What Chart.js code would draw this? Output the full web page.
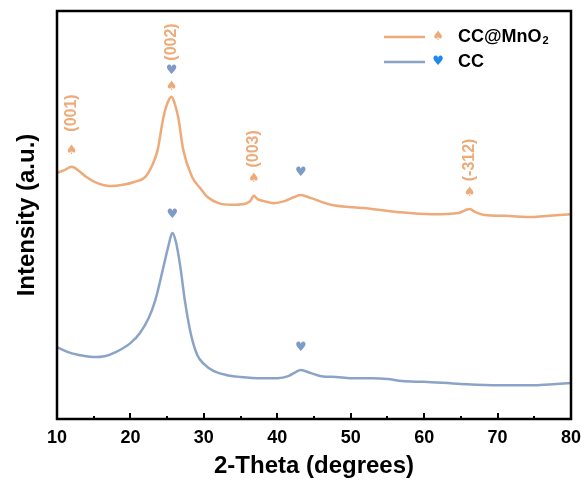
<!DOCTYPE html>
<html>
<head>
<meta charset="utf-8">
<script src="https://cdn.jsdelivr.net/npm/chart.js@4"></script>
<style>
  body { margin: 0; background: #fff; }
  canvas { display: block; }
</style>
</head>
<body>
<canvas id="myChart" width="581" height="483"></canvas>
<script>
const ctx = document.getElementById("myChart");

// CC@MnO2 pattern (2-theta, intensity a.u.)
const mnoTheta = [10, 11, 12, 13, 14, 15.5, 17.2, 19, 20.5, 22, 23, 23.7, 24.5, 25.1, 25.6, 26.0, 26.5, 27.2, 28.4, 29.5, 30.5, 32, 33.7, 35.5, 36.3, 36.8, 37.3, 38.2, 39.5, 41, 42.3, 43.2, 44.5, 47.3, 51.8, 56.5, 61, 64.7, 66.2, 67.0, 68.2, 71, 74.7, 77, 80];
const mnoIntensity = [60.3, 61.0, 61.8, 60.8, 59.3, 57.8, 57.1, 57.4, 58.1, 59.3, 62.3, 65.9, 74.0, 77.7, 79.0, 77.5, 74.0, 65.9, 59.3, 56.6, 54.4, 52.9, 52.5, 52.7, 53.4, 54.7, 53.9, 53.4, 52.9, 53.4, 54.4, 54.9, 54.2, 52.5, 51.7, 50.7, 50.2, 50.5, 51.5, 50.7, 50.0, 49.8, 49.5, 49.8, 50.2];

// CC pattern
const ccTheta = [10, 11.5, 13, 14.9, 16.5, 18, 20, 21.3, 22.5, 23.4, 24.5, 25.2, 25.7, 26.2, 26.8, 27.4, 28.2, 29.1, 30, 31.3, 33, 35, 38, 40, 41.5, 42.5, 43.2, 44.5, 46, 48, 50, 53, 55, 57, 60, 65, 70, 75, 78, 80];
const ccIntensity = [17.6, 16.4, 15.7, 15.2, 15.4, 16.4, 18.6, 21.1, 24.8, 29.2, 37.3, 42.6, 45.6, 43.4, 37.3, 29.2, 21.1, 15.7, 13.5, 11.8, 10.8, 10.3, 10.0, 10.0, 10.5, 11.5, 12.0, 11.3, 10.5, 10.3, 10.0, 10.0, 9.8, 9.3, 9.1, 8.6, 8.3, 8.3, 8.6, 8.8];

const xMajorTicks = [10, 20, 30, 40, 50, 60, 70, 80];
const xMinorTicks = [15, 25, 35, 45, 55, 65, 75];

// peak markers
const spadeTheta = [12.0, 25.6, 36.8, 66.2];
const spadeY = [65.9, 81.4, 58.8, 55.4];
const planeLabels = ["(001)", "(002)", "(003)", "(-312)"];
const planeLabelY = [75.0, 92.4, 66.2, 63.5];
const heartTheta = [25.6, 43.2, 25.7, 43.2];
const heartY = [85.5, 60.5, 50.0, 17.4];

const orange = "#EEAA78";
const blue = "#8CA3C8";
const heartBlue = "#7E9BC8";

function toPoints(xs, ys) {
  return xs.map((x, i) => ({ x: x, y: ys[i] }));
}

const marks = {
  id: "marks",
  afterDatasetsDraw(chart) {
    const c = chart.ctx;
    const xs = chart.scales.x;
    const ys = chart.scales.y;
    c.save();
    c.textAlign = "center";
    c.textBaseline = "middle";
    c.font = "13px 'DejaVu Sans'";
    c.fillStyle = orange;
    for (let i = 0; i < spadeTheta.length; i++) {
      c.fillText("\u2660", xs.getPixelForValue(spadeTheta[i]), ys.getPixelForValue(spadeY[i]));
    }
    c.fillStyle = heartBlue;
    for (let i = 0; i < heartTheta.length; i++) {
      c.fillText("\u2665", xs.getPixelForValue(heartTheta[i]), ys.getPixelForValue(heartY[i]));
    }
    c.font = "bold 16px 'Liberation Sans'";
    c.fillStyle = orange;
    for (let i = 0; i < planeLabels.length; i++) {
      c.save();
      c.translate(xs.getPixelForValue(spadeTheta[i]), ys.getPixelForValue(planeLabelY[i]));
      c.rotate(-Math.PI / 2);
      c.fillText(planeLabels[i], 0, 0);
      c.restore();
    }
    c.restore();
  },
  afterDraw(chart) {
    const c = chart.ctx;
    const a = chart.chartArea;
    const xs = chart.scales.x;
    c.save();
    c.strokeStyle = "#000";
    c.lineWidth = 2.5;
    c.strokeRect(a.left, a.top, a.right - a.left, a.bottom - a.top);
    c.lineWidth = 2;
    c.beginPath();
    xMajorTicks.forEach((t) => {
      const px = Math.round(xs.getPixelForValue(t));
      c.moveTo(px, a.bottom);
      c.lineTo(px, a.bottom - 6);
    });
    xMinorTicks.forEach((t) => {
      const px = Math.round(xs.getPixelForValue(t));
      c.moveTo(px, a.bottom);
      c.lineTo(px, a.bottom - 3);
    });
    c.stroke();

    // legend
    const rows = [
      { y: 37, color: orange, sym: "\u2660", symColor: orange, text: "CC@MnO", sub: "2" },
      { y: 62, color: blue, sym: "\u2665", symColor: "#1E88F0", text: "CC", sub: "" },
    ];
    rows.forEach((r) => {
      c.strokeStyle = r.color;
      c.lineWidth = 2.5;
      c.beginPath();
      c.moveTo(384, r.y);
      c.lineTo(425, r.y);
      c.stroke();
      c.textAlign = "center";
      c.textBaseline = "middle";
      c.font = "13px 'DejaVu Sans'";
      c.fillStyle = r.symColor;
      c.fillText(r.sym, 438, r.y);
      c.textAlign = "left";
      c.font = "bold 18px 'Liberation Sans'";
      c.fillStyle = "#000";
      c.fillText(r.text, 458, r.y);
      if (r.sub) {
        const w = c.measureText(r.text).width;
        c.font = "bold 11px 'Liberation Sans'";
        c.fillText(r.sub, 458 + w + 1, r.y + 4);
      }
    });
    c.restore();
  },
};

const data = {
  datasets: [
    {
      label: "CC@MnO2",
      data: toPoints(mnoTheta, mnoIntensity),
      borderColor: orange,
      borderWidth: 2.5,
      pointRadius: 0,
      cubicInterpolationMode: "monotone",
    },
    {
      label: "CC",
      data: toPoints(ccTheta, ccIntensity),
      borderColor: blue,
      borderWidth: 2.5,
      pointRadius: 0,
      cubicInterpolationMode: "monotone",
    },
  ],
};

const config = {
  type: "line",
  data: data,
  options: {
    responsive: false,
    animation: false,
    layout: { padding: { left: 0, top: 11, right: 10, bottom: 0 } },
    plugins: { legend: { display: false }, tooltip: { enabled: false } },
    scales: {
      x: {
        type: "linear",
        min: 10,
        max: 80,
        grid: { display: false, drawTicks: false },
        border: { display: false },
        ticks: {
          stepSize: 10,
          padding: 8,
          color: "#000",
          font: { family: "'Liberation Sans'", size: 18, weight: "bold" },
        },
        title: {
          display: true,
          text: "2-Theta (degrees)",
          color: "#000",
          padding: { top: 4, bottom: 2 },
          font: { family: "'Liberation Sans'", size: 24, weight: "bold" },
        },
        afterFit: (s) => {
          s.height = 64;
          s.paddingLeft = 0;
          s.paddingRight = 0;
        },
      },
      y: {
        min: 0,
        max: 100,
        grid: { display: false, drawTicks: false },
        border: { display: false },
        ticks: { display: false },
        title: {
          display: true,
          text: "Intensity (a.u.)",
          color: "#000",
          padding: { top: 13, bottom: 4 },
          font: { family: "'Liberation Sans'", size: 24, weight: "bold" },
        },
        afterFit: (s) => { s.width = 57; },
      },
    },
  },
  plugins: [marks],
};
const myChart = new Chart(ctx, config);
</script>
</body>
</html>
